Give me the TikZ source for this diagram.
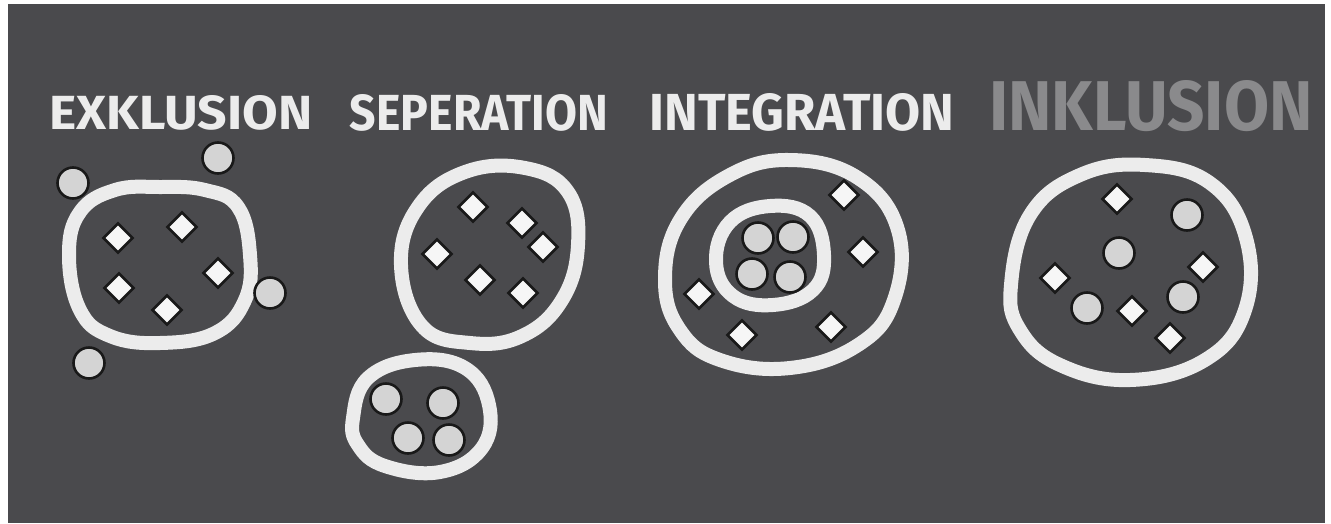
\documentclass[tikz,border=0pt]{standalone}
\usepackage{fontspec}
\setmainfont{Fira Sans}
\usetikzlibrary{shapes.geometric}
\definecolor{board}{RGB}{74,74,77}
\definecolor{chalk}{RGB}{236,236,236}
\definecolor{chalkgrey}{RGB}{138,138,140}
\definecolor{dotfill}{RGB}{212,212,212}
\definecolor{gemfill}{RGB}{246,246,246}
\tikzset{
  ring/.style={draw=chalk, line width=14pt, line join=round},
  dot/.style={circle, draw=black!90, line width=2.6pt, fill=dotfill, minimum size=31pt, inner sep=0pt},
  gem/.style={diamond, aspect=1, draw=black!90, line width=2.6pt, fill=gemfill, minimum width=30pt, minimum height=30pt, inner sep=0pt},
  title/.style={text=chalk, font=\bfseries, inner sep=0pt},
}
\begin{document}
\begin{tikzpicture}[x=1pt,y=-1pt]
\useasboundingbox (0,0) rectangle (1331,523);
\fill[white] (0,0) rectangle (1331,523);
\fill[board] (8,4) rectangle (1325,523);

% titles
\node[title] (t1) at (181,113) {\resizebox{263pt}{34pt}{EXKLUSION}};
\node[title] (t2) at (479,113) {\resizebox{258pt}{36pt}{SEPERATION}};
\node[title] (t3) at (802,112) {\resizebox{305pt}{37pt}{INTEGRATION}};
\node[title, text=chalkgrey] (t4) at (1151,106) {\resizebox{323pt}{50pt}{INKLUSION}};

% Exklusion
\draw[ring] plot[smooth cycle, tension=0.7] coordinates {(69,255) (80,212) (115,190) (160,187) (205,190) (238,207) (250,255) (245,300) (215,333) (160,343) (110,336) (80,310)};
\node[gem] (e1) at (118,238) {};
\node[gem] (e2) at (182,227) {};
\node[gem] (e3) at (218,273) {};
\node[gem] (e4) at (119,288) {};
\node[gem] (e5) at (167,310) {};
\node[dot] (ec1) at (73,183) {};
\node[dot] (ec2) at (218,158) {};
\node[dot] (ec3) at (270,293) {};
\node[dot] (ec4) at (89,363) {};

% Seperation
\draw[ring] plot[smooth cycle, tension=0.7] coordinates {(401,265) (418,207) (465,172) (525,168) (568,192) (578,245) (562,300) (522,336) (470,343) (422,326)};
\node[gem] (s1) at (473,207) {};
\node[gem] (s2) at (522,223) {};
\node[gem] (s3) at (543,247) {};
\node[gem] (s4) at (437,254) {};
\node[gem] (s5) at (480,280) {};
\node[gem] (s6) at (523,293) {};
\draw[ring] plot[smooth cycle, tension=0.7] coordinates {(353,418) (368,378) (415,360) (465,368) (489,405) (482,448) (440,472) (385,466) (358,445)};
\node[dot] (sc1) at (386,399) {};
\node[dot] (sc2) at (443,403) {};
\node[dot] (sc3) at (408,438) {};
\node[dot] (sc4) at (449,440) {};

% Integration
\draw[ring] plot[smooth cycle, tension=0.7] coordinates {(665,280) (680,220) (728,176) (790,160) (858,178) (898,230) (894,300) (858,345) (790,368) (720,360) (680,330)};
\draw[ring] plot[smooth cycle, tension=0.7] coordinates {(716,262) (730,222) (770,206) (810,216) (824,255) (813,290) (773,305) (733,296)};
\node[dot] (ic1) at (758,238) {};
\node[dot] (ic2) at (793,237) {};
\node[dot] (ic3) at (752,274) {};
\node[dot] (ic4) at (790,277) {};
\node[gem] (i1) at (844,195) {};
\node[gem] (i2) at (863,252) {};
\node[gem] (i3) at (699,294) {};
\node[gem] (i4) at (742,335) {};
\node[gem] (i5) at (831,327) {};

% Inklusion
\draw[ring] plot[smooth cycle, tension=0.7] coordinates {(1011,285) (1030,215) (1080,175) (1145,165) (1210,183) (1246,238) (1245,310) (1205,360) (1130,380) (1060,365) (1020,330)};
\node[gem] (k1) at (1117,199) {};
\node[gem] (k2) at (1203,267) {};
\node[gem] (k3) at (1055,278) {};
\node[gem] (k4) at (1132,311) {};
\node[gem] (k5) at (1170,338) {};
\node[dot] (kc1) at (1187,215) {};
\node[dot] (kc2) at (1119,253) {};
\node[dot] (kc3) at (1183,297) {};
\node[dot] (kc4) at (1087,308) {};
\end{tikzpicture}
\end{document}
